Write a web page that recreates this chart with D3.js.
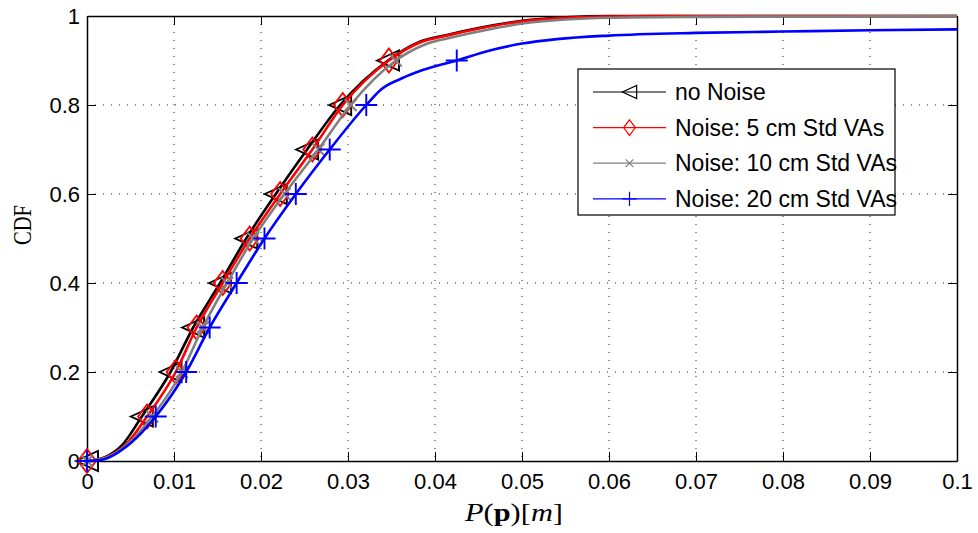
<!DOCTYPE html>
<html>
<head>
<meta charset="utf-8">
<script src="https://cdn.jsdelivr.net/npm/d3@7"></script>
<style>
  html, body { margin: 0; padding: 0; background: #fff; }
  svg { display: block; }
</style>
</head>
<body>
<svg id="chart" width="978" height="533"></svg>
<script>
// ---- data ----
const xTicks = [0, 0.01, 0.02, 0.03, 0.04, 0.05, 0.06, 0.07, 0.08, 0.09, 0.1];
const xTickLabels = ["0", "0.01", "0.02", "0.03", "0.04", "0.05", "0.06", "0.07", "0.08", "0.09", "0.1"];
const yTicks = [0, 0.2, 0.4, 0.6, 0.8, 1];
const yTickLabels = ["0", "0.2", "0.4", "0.6", "0.8", "1"];

const seriesNames = ["no Noise", "Noise: 5 cm Std VAs", "Noise: 10 cm Std VAs", "Noise: 20 cm Std VAs"];
const seriesColors = ["#000000", "#ff0000", "#808080", "#0000ff"];
const seriesMarkers = ["triangleLeft", "diamond", "cross", "plus"];

// CDF levels where markers sit
const markerLevels = [0, 0.1, 0.2, 0.3, 0.4, 0.5, 0.6, 0.7, 0.8, 0.9];

// error values (m) at each marker level
const noNoiseMarkX = [0, 0.0063, 0.0096, 0.0122, 0.0153, 0.0183, 0.0217, 0.0253, 0.0291, 0.0346];
const noise5MarkX  = [0, 0.0069, 0.0102, 0.0126, 0.0156, 0.0187, 0.0222, 0.0259, 0.0294, 0.0347];
const noise10MarkX = [0, 0.0075, 0.0109, 0.0133, 0.0161, 0.0191, 0.0227, 0.0266, 0.0303, 0.0355];
const noise20MarkX = [0, 0.0079, 0.0114, 0.0141, 0.0172, 0.0204, 0.0240, 0.0279, 0.0321, 0.0425];

// extra curve samples between / beyond marker levels
const noNoiseExtraX = [0.002, 0.004, 0.038, 0.0415, 0.045, 0.05, 0.055, 0.06, 0.1];
const noNoiseExtraY = [0.008, 0.035, 0.94, 0.958, 0.973, 0.989, 0.997, 1, 1];
const noise5ExtraX  = [0.002, 0.0045, 0.0382, 0.0416, 0.0451, 0.05, 0.055, 0.06, 0.065, 0.1];
const noise5ExtraY  = [0.007, 0.038, 0.94, 0.957, 0.972, 0.988, 0.996, 0.999, 1, 1];
const noise10ExtraX = [0.002, 0.0048, 0.039, 0.042, 0.046, 0.05, 0.055, 0.06, 0.07, 0.085, 0.1];
const noise10ExtraY = [0.006, 0.04, 0.937, 0.952, 0.969, 0.983, 0.992, 0.996, 0.998, 0.999, 1];
const noise20ExtraX = [0.0015, 0.005, 0.0338, 0.0362, 0.0385, 0.0462, 0.05, 0.054, 0.06, 0.07, 0.08, 0.09, 0.1];
const noise20ExtraY = [0.002, 0.04, 0.835, 0.86, 0.878, 0.922, 0.938, 0.948, 0.956, 0.962, 0.965, 0.968, 0.97];

const markX = [noNoiseMarkX, noise5MarkX, noise10MarkX, noise20MarkX];
const extraX = [noNoiseExtraX, noise5ExtraX, noise10ExtraX, noise20ExtraX];
const extraY = [noNoiseExtraY, noise5ExtraY, noise10ExtraY, noise20ExtraY];

// ---- layout ----
const svg = d3.select("#chart");
const plotLeft = 87, plotRight = 957, plotTop = 16, plotBottom = 461;

const x = d3.scaleLinear().domain([0, 0.1]).range([plotLeft, plotRight]);
const y = d3.scaleLinear().domain([0, 1]).range([plotBottom, plotTop]);

// grid
const grid = svg.append("g").attr("stroke", "#222").attr("stroke-width", 1)
  .attr("stroke-dasharray", "1,7");
grid.selectAll("line.gx").data(xTicks.slice(1, -1)).join("line").attr("class", "gx")
  .attr("x1", d => x(d)).attr("x2", d => x(d)).attr("y1", plotTop).attr("y2", plotBottom);
grid.selectAll("line.gy").data(yTicks.slice(1, -1)).join("line").attr("class", "gy")
  .attr("x1", plotLeft).attr("x2", plotRight).attr("y1", d => y(d)).attr("y2", d => y(d));

// axes with inward ticks on all four sides
function styleAxis(g) {
  g.selectAll("path.domain").attr("stroke", "#000").attr("stroke-width", 1.5);
  g.selectAll(".tick line").attr("stroke", "#000").attr("stroke-width", 1);
  g.selectAll("text").attr("font-size", 22).attr("font-family", "Liberation Sans, Arial, sans-serif").attr("fill", "#000");
}
svg.append("g").attr("transform", `translate(0,${plotBottom})`)
  .call(d3.axisBottom(x).tickValues(xTicks).tickFormat((d, i) => xTickLabels[i])
    .tickSizeInner(-9).tickSizeOuter(0).tickPadding(12))
  .call(styleAxis);
svg.append("g").attr("transform", `translate(0,${plotTop})`)
  .call(d3.axisTop(x).tickValues(xTicks).tickFormat("").tickSizeInner(-9).tickSizeOuter(0))
  .call(styleAxis);
svg.append("g").attr("transform", `translate(${plotLeft},0)`)
  .call(d3.axisLeft(y).tickValues(yTicks).tickFormat((d, i) => yTickLabels[i])
    .tickSizeInner(-9).tickSizeOuter(0).tickPadding(7))
  .call(styleAxis);
svg.append("g").attr("transform", `translate(${plotRight},0)`)
  .call(d3.axisRight(y).tickValues(yTicks).tickFormat("").tickSizeInner(-9).tickSizeOuter(0))
  .call(styleAxis);

// marker shapes, centered at 0,0, scale s
function markerPath(kind, s) {
  switch (kind) {
    case "triangleLeft": return `M${-11*s},0L${11*s},${-10*s}L${11*s},${10*s}Z`;
    case "diamond": return `M0,${-12*s}L${9*s},0L0,${12*s}L${-9*s},0Z`;
    case "cross": return `M${-6*s},${-6*s}L${6*s},${6*s}M${-6*s},${6*s}L${6*s},${-6*s}`;
    case "plus": return `M${-11*s},0L${11*s},0M0,${-11*s}L0,${11*s}`;
  }
}

const line = d3.line().x(d => x(d[0])).y(d => y(d[1])).curve(d3.curveMonotoneX);

const plot = svg.append("g");
seriesNames.forEach((name, i) => {
  const pts = markX[i].map((v, k) => [v, markerLevels[k]])
    .concat(extraX[i].map((v, k) => [v, extraY[i][k]]))
    .sort((a, b) => a[0] - b[0] || a[1] - b[1]);
  const g = plot.append("g");
  g.append("path").datum(pts).attr("d", line)
    .attr("fill", "none").attr("stroke", seriesColors[i]).attr("stroke-width", 2.6)
    .attr("stroke-linejoin", "round");
  g.selectAll("path.m").data(markX[i].map((v, k) => [v, markerLevels[k]])).join("path")
    .attr("class", "m")
    .attr("transform", d => `translate(${x(d[0])},${y(d[1])})`)
    .attr("d", markerPath(seriesMarkers[i], 1))
    .attr("fill", "none").attr("stroke", seriesColors[i]).attr("stroke-width", 1.9);
});

// legend
const legend = svg.append("g");
legend.append("rect").attr("x", 578).attr("y", 69).attr("width", 317).attr("height", 146)
  .attr("fill", "#fff").attr("stroke", "#000").attr("stroke-width", 1.2);
seriesNames.forEach((name, i) => {
  const ly = 92 + i * 35.6;
  legend.append("line").attr("x1", 593).attr("x2", 666).attr("y1", ly).attr("y2", ly)
    .attr("stroke", seriesColors[i]).attr("stroke-width", 1.2);
  legend.append("path").attr("transform", `translate(629.5,${ly})`)
    .attr("d", markerPath(seriesMarkers[i], 0.65))
    .attr("fill", "none").attr("stroke", seriesColors[i]).attr("stroke-width", 1.2);
  legend.append("text").attr("x", 675).attr("y", ly).attr("dy", "0.36em")
    .attr("font-family", "Liberation Sans, Arial, sans-serif").attr("font-size", 23)
    .text(name);
});

// axis titles
const xl = svg.append("text").attr("x", 514).attr("y", 521).attr("text-anchor", "middle")
  .attr("font-family", "Liberation Serif, Times New Roman, serif").attr("font-size", 26)
  .attr("textLength", 98).attr("lengthAdjust", "spacingAndGlyphs");
xl.append("tspan").attr("font-style", "italic").text("P");
xl.append("tspan").text("(");
xl.append("tspan").attr("font-weight", "bold").text("p");
xl.append("tspan").text(")[");
xl.append("tspan").attr("font-style", "italic").text("m");
xl.append("tspan").text("]");

svg.append("text").attr("transform", "translate(31,225) rotate(-90)")
  .attr("text-anchor", "middle")
  .attr("font-family", "Liberation Serif, Times New Roman, serif").attr("font-size", 26)
  .attr("textLength", 40).attr("lengthAdjust", "spacingAndGlyphs")
  .text("CDF");
</script>
</body>
</html>
